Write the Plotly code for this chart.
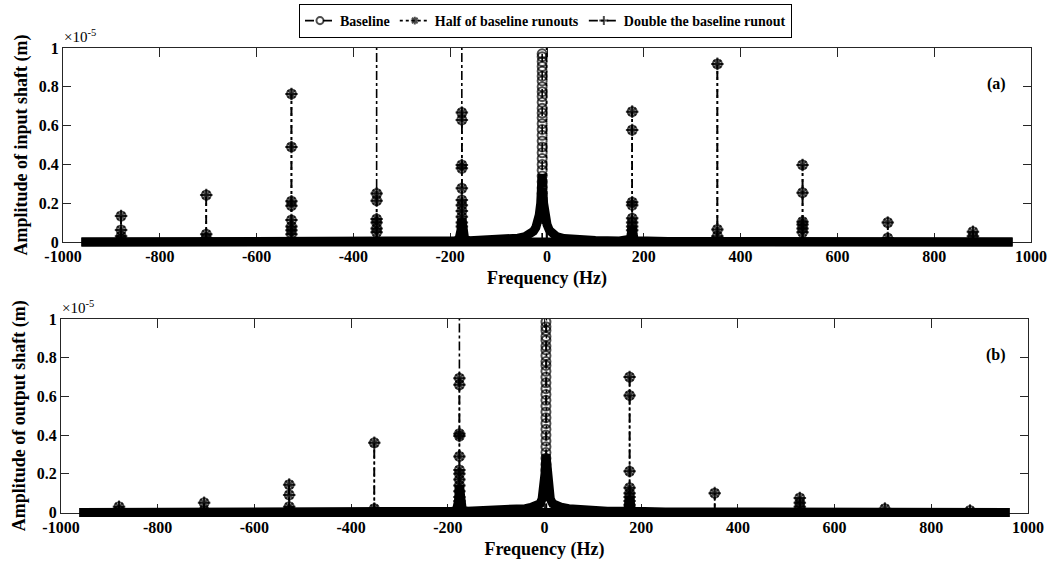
import plotly.graph_objects as go

# ---------------- data (amplitudes in units of 1e-5 m, frequency in Hz) ----------------
x_tick_vals = [-1000, -800, -600, -400, -200, 0, 200, 400, 600, 800, 1000]
x_tick_text = ["-1000", "-800", "-600", "-400", "-200", "0", "200", "400", "600", "800", "1000"]
y_tick_vals = [0, 0.2, 0.4, 0.6, 0.8, 1.0]
y_tick_text = ["0", "0.2", "0.4", "0.6", "0.8", "1"]

series_names = ["Baseline", "Half of baseline runouts", "Double the baseline runout"]

# ---- (a) input shaft: stem points shared by the three runout cases
common_a_freq = [-880, -880, -880, -880,
                 -704, -704, -704,
                 -528, -528, -528, -528, -528, -528, -528, -528,
                 -352, -352, -352, -352, -352, -352,
                 -176, -176, -176, -176, -176, -176, -176, -176, -176, -176, -176,
                 176, 176, 176, 176, 176, 176, 176, 176,
                 352, 352, 352,
                 528, 528, 528, 528, 528, 528,
                 704, 704,
                 880, 880]
common_a_amp = [0.134, 0.062, 0.03, 0.015,
                0.242, 0.04, 0.02,
                0.763, 0.49, 0.21, 0.187, 0.113, 0.08, 0.06, 0.04,
                0.25, 0.213, 0.118, 0.10, 0.07, 0.05,
                0.667, 0.629, 0.397, 0.38, 0.277, 0.216, 0.19, 0.16, 0.13, 0.10, 0.08,
                0.672, 0.577, 0.205, 0.19, 0.122, 0.10, 0.08, 0.06,
                0.918, 0.065, 0.03,
                0.397, 0.254, 0.105, 0.09, 0.07, 0.05,
                0.10, 0.02,
                0.053, 0.03]
base_a_freq = [-10] * 27
base_a_amp = [0.97, 0.955, 0.93, 0.905, 0.88, 0.855, 0.83, 0.80, 0.775, 0.75, 0.72, 0.69,
              0.665, 0.64, 0.61, 0.58, 0.55, 0.52, 0.49, 0.46, 0.43, 0.40, 0.37, 0.34,
              0.31, 0.28, 0.25]
half_a_freq = []
half_a_amp = []
double_a_freq = [-352, -176, -1]
double_a_amp = [1.5, 1.5, 1.5]
floor_a_freq = [-962, -700, -400, -250, -190, -182, -179, -177, -176, -175, -173, -170, -160,
                -120, -80, -60, -45, -35, -28, -23, -19, -16, -13, -11, -10, -9, -7, -4, 0,
                5, 12, 20, 35, 60, 100, 150, 168, 172, 174, 176, 178, 180, 185, 250, 400, 700, 962]
floor_a_amp = [0, 0, 0.002, 0.004, 0.006, 0.012, 0.03, 0.07, 0.12, 0.07, 0.03, 0.012, 0.007,
               0.01, 0.014, 0.02, 0.028, 0.04, 0.055, 0.075, 0.10, 0.14, 0.20, 0.28, 0.35, 0.28,
               0.20, 0.14, 0.09, 0.06, 0.04, 0.028, 0.018, 0.012, 0.008, 0.005, 0.006, 0.015,
               0.04, 0.08, 0.04, 0.015, 0.006, 0.003, 0.002, 0, 0]
flat_a_freq = [-962, 962]
flat_a_amp = [0, 0]

# ---- (b) output shaft
common_b_freq = [-880, -880,
                 -704, -704,
                 -528, -528, -528, -528,
                 -352, -352,
                 -176, -176, -176, -176, -176, -176, -176, -176, -176, -176, -176, -176,
                 176, 176, 176, 176, 176, 176, 176, 176,
                 352,
                 528, 528, 528,
                 704,
                 880]
common_b_amp = [0.03, 0.01,
                0.05, 0.01,
                0.144, 0.091, 0.03, 0.01,
                0.36, 0.02,
                0.694, 0.66, 0.407, 0.395, 0.29, 0.22, 0.20, 0.17, 0.14, 0.11, 0.08, 0.06,
                0.70, 0.605, 0.213, 0.128, 0.10, 0.08, 0.06, 0.04,
                0.10,
                0.075, 0.05, 0.03,
                0.02,
                0.01]
base_b_freq = [3] * 28
base_b_amp = [0.985, 0.96, 0.94, 0.91, 0.89, 0.86, 0.84, 0.81, 0.78, 0.76, 0.73, 0.70, 0.67,
              0.64, 0.61, 0.58, 0.55, 0.52, 0.49, 0.46, 0.43, 0.40, 0.37, 0.34, 0.31, 0.28,
              0.25, 0.22]
half_b_freq = []
half_b_amp = []
double_b_freq = [-176, 4]
double_b_amp = [1.5, 1.5]
floor_b_freq = [-962, -700, -400, -250, -190, -182, -179, -177, -176, -175, -173, -170, -160,
                -100, -60, -40, -28, -20, -14, -9, -5, -2, 1, 3, 5, 8, 12, 17, 24, 34, 50, 80,
                130, 168, 172, 174, 176, 178, 180, 185, 250, 400, 700, 962]
floor_b_amp = [0, 0, 0.002, 0.004, 0.006, 0.012, 0.03, 0.07, 0.14, 0.07, 0.03, 0.012, 0.007,
               0.008, 0.012, 0.02, 0.026, 0.03, 0.035, 0.045, 0.07, 0.12, 0.20, 0.30, 0.20,
               0.12, 0.07, 0.045, 0.035, 0.028, 0.02, 0.012, 0.007, 0.006, 0.015, 0.04, 0.08,
               0.04, 0.015, 0.006, 0.003, 0.002, 0, 0]
flat_b_freq = [-962, 962]
flat_b_amp = [0, 0]

# ---------------- layout geometry ----------------
W, H = 1054, 567
M_L, M_R, M_T, M_B = 61, 23, 48, 44
PW = W - M_L - M_R
PH = H - M_T - M_B
EXT = 6  # px the data layer extends below zero so the thick floor is not clipped


def px_x(px):
    return (px - M_L) / PW


def px_y(py):
    return (H - M_B - py) / PH


panels = {
    "a": dict(x0=63, x1=1031, ytop=48, y0=242),
    "b": dict(x0=61, x1=1028, ytop=319, y0=512.5),
}

FONT = "Liberation Serif"
AXC = "#262626"


def stems(freqs, amps):
    groups = {}
    for f, a in zip(freqs, amps):
        groups.setdefault(f, []).append(a)
    xs, ys, sizes = [], [], []
    for f in sorted(groups):
        vals = sorted(groups[f])
        xs += [f] * (len(vals) + 1) + [None]
        ys += [0.0] + vals + [None]
        sizes += [0] + [9] * len(vals) + [0]
    return xs, ys, sizes


styles = [
    dict(dash="dash", symbol="circle-open"),
    dict(dash="dot", symbol="asterisk-open"),
    dict(dash="dashdot", symbol="cross-thin-open"),
]

fig = go.Figure()

# empty placeholders so the visible frame axes are created
for xr, yr in [("x", "y"), ("x2", "y2")]:
    fig.add_trace(go.Scatter(x=[0], y=[-5], mode="markers", xaxis=xr, yaxis=yr,
                             marker=dict(size=1, color="white"), showlegend=False,
                             hoverinfo="skip"))

panel_data = {
    "a": (common_a_freq, common_a_amp,
          [(base_a_freq, base_a_amp), (half_a_freq, half_a_amp), (double_a_freq, double_a_amp)],
          [(floor_a_freq, floor_a_amp), (flat_a_freq, flat_a_amp)]),
    "b": (common_b_freq, common_b_amp,
          [(base_b_freq, base_b_amp), (half_b_freq, half_b_amp), (double_b_freq, double_b_amp)],
          [(floor_b_freq, floor_b_amp), (flat_b_freq, flat_b_amp)]),
}

axis_ids = {"a": ("x3", "y3"), "b": ("x4", "y4")}

for key in ["a", "b"]:
    cf, ca, extras, floors = panel_data[key]
    xa, ya = axis_ids[key]
    for ff, fa in floors:
        fig.add_trace(go.Scatter(x=ff, y=fa, mode="lines", xaxis=xa, yaxis=ya,
                                 line=dict(color="black", width=9), showlegend=False,
                                 hoverinfo="skip"))
    for i, (ef, ea) in enumerate(extras):
        xs, ys, sz = stems(list(cf) + list(ef), list(ca) + list(ea))
        fig.add_trace(go.Scatter(
            x=xs, y=ys, mode="lines+markers", xaxis=xa, yaxis=ya,
            name=series_names[i], showlegend=(key == "a"),
            line=dict(color="black", width=1.6, dash=styles[i]["dash"]),
            marker=dict(symbol=styles[i]["symbol"], size=sz, color="black",
                        line=dict(color="black", width=2)),
        ))

layout = dict(
    width=W, height=H, autosize=False,
    margin=dict(l=M_L, r=M_R, t=M_T, b=M_B, autoexpand=False),
    paper_bgcolor="white", plot_bgcolor="rgba(0,0,0,0)",
    font=dict(family=FONT, color="black"),
    legend=dict(orientation="h", xref="container", yref="container",
                x=545.5 / W, xanchor="center", y=1 - 4 / H, yanchor="top",
                bgcolor="white", bordercolor="black", borderwidth=1,
                font=dict(family=FONT, size=14, weight="bold", color="black"),
                itemwidth=30),
    annotations=[],
)

ytitles = {"a": "Amplitude of input shaft (m)", "b": "Amplitude of output shaft (m)"}
vis_ids = {"a": ("xaxis", "yaxis", "x", "y"), "b": ("xaxis2", "yaxis2", "x2", "y2")}
dat_ids = {"a": ("xaxis3", "yaxis3", "x3", "y3"), "b": ("xaxis4", "yaxis4", "x4", "y4")}

for key in ["a", "b"]:
    p = panels[key]
    xdom = [px_x(p["x0"]), px_x(p["x1"])]
    ydom = [px_y(p["y0"]), px_y(p["ytop"])]
    hpx = p["y0"] - p["ytop"]
    vx, vy, vxr, vyr = vis_ids[key]
    dx, dy, dxr, dyr = dat_ids[key]
    layout[vx] = dict(domain=xdom, range=[-1000, 1000], anchor=vyr,
                      tickvals=x_tick_vals, ticktext=x_tick_text,
                      ticks="inside", ticklen=9, tickcolor=AXC, tickwidth=1,
                      showline=True, linecolor=AXC, linewidth=1, mirror="ticks",
                      showgrid=False, zeroline=False,
                      tickfont=dict(family=FONT, size=16, weight="bold", color="black"),
                      title=dict(text="Frequency (Hz)", standoff=7,
                                 font=dict(family=FONT, size=18, weight="bold", color="black")))
    layout[vy] = dict(domain=ydom, range=[0, 1], anchor=vxr,
                      tickvals=y_tick_vals, ticktext=y_tick_text,
                      ticks="inside", ticklen=8, tickcolor=AXC, tickwidth=1,
                      showline=True, linecolor=AXC, linewidth=1, mirror="ticks",
                      showgrid=False, zeroline=False,
                      tickfont=dict(family=FONT, size=16, weight="bold", color="black"),
                      title=dict(text=ytitles[key], standoff=6,
                                 font=dict(family=FONT, size=18, weight="bold", color="black")))
    layout[dx] = dict(domain=xdom, range=[-1000, 1000], anchor=dyr, visible=False)
    layout[dy] = dict(domain=[px_y(p["y0"] + EXT), ydom[1]],
                      range=[-EXT / hpx, 1], anchor=dxr, visible=False)
    layout["annotations"].append(dict(
        xref="paper", yref="paper", x=px_x(p["x0"] - 1), y=px_y(p["ytop"] - 1),
        xanchor="left", yanchor="bottom", showarrow=False,
        text="×10<sup>-5</sup>", font=dict(family=FONT, size=15, color="black")))
    layout["annotations"].append(dict(
        xref="paper", yref="paper", x=px_x(996), y=px_y(p["ytop"] + 36),
        xanchor="center", yanchor="middle", showarrow=False,
        text="(%s)" % key, font=dict(family=FONT, size=16, weight="bold", color="black")))

fig.update_layout(**layout)
fig.write_html("out.html", config={"displayModeBar": False},
               post_script="document.body.style.margin='0';document.body.style.overflow='hidden';")
